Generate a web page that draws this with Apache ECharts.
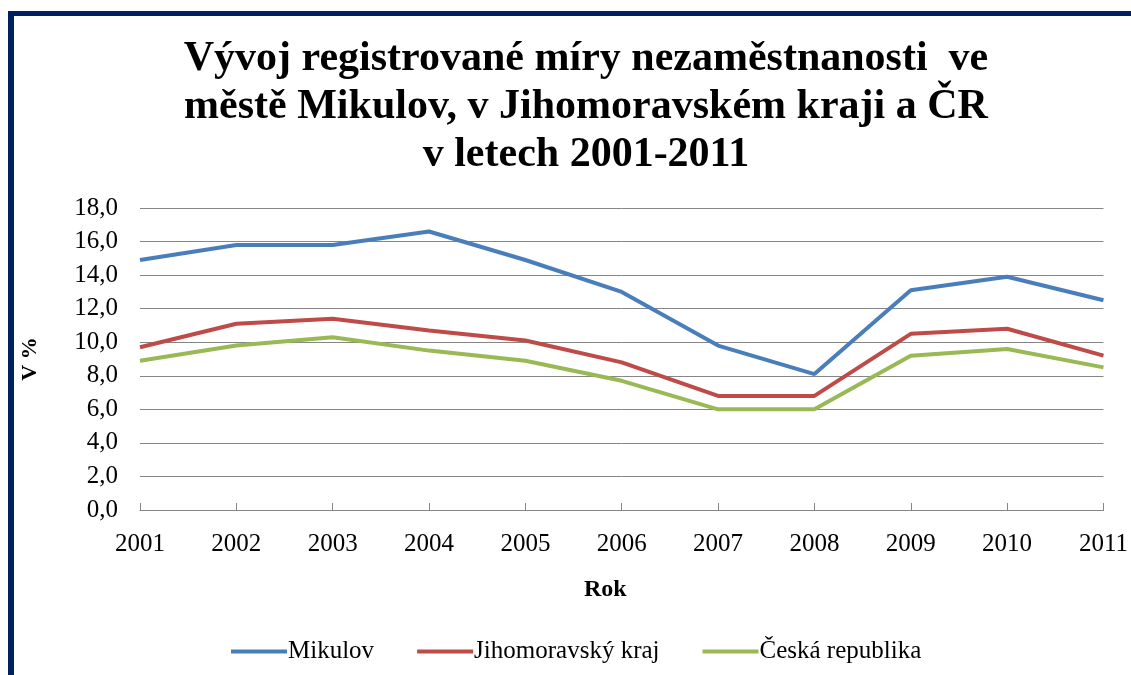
<!DOCTYPE html>
<html><head><meta charset="utf-8">
<script src="https://cdn.jsdelivr.net/npm/echarts@6/dist/echarts.min.js"></script>
<style>
html,body{margin:0;padding:0;background:#fff;}
#frame{position:absolute;left:8px;top:11px;width:1200px;height:700px;border-left:6px solid #002060;border-top:5px solid #002060;box-sizing:border-box;}
#c{position:absolute;left:0;top:0;width:1131px;height:675px;}
</style></head>
<body>
<div id="frame"></div>
<div id="c"></div>
<script>
const years = ['2001','2002','2003','2004','2005','2006','2007','2008','2009','2010','2011'];
const mikulov = [14.9, 15.8, 15.8, 16.6, 14.9, 13.0, 9.8, 8.1, 13.1, 13.9, 12.5];
const jmk = [9.7, 11.1, 11.4, 10.7, 10.1, 8.8, 6.8, 6.8, 10.5, 10.8, 9.2];
const cr = [8.9, 9.8, 10.3, 9.5, 8.9, 7.7, 6.0, 6.0, 9.2, 9.6, 8.5];
const seriesNames = ['Mikulov', 'Jihomoravský kraj', 'Česká republika'];
const colors = ['#4A7EBB', '#BE4B48', '#98B954'];

const chart = echarts.init(document.getElementById('c'));
const serif = '"Liberation Serif", "Times New Roman", serif';
chart.setOption({
  animation: false,
  backgroundColor: 'transparent',
  title: {
    text: 'Vývoj registrované míry nezaměstnanosti  ve\nměstě Mikulov, v Jihomoravském kraji a ČR\nv letech 2001-2011',
    left: 581, top: 30, textAlign: 'center',
    textStyle: {fontFamily: serif, fontWeight: 'bold', fontSize: 42, lineHeight: 48, color: '#000'}
  },
  graphic: [{
    type: 'text', left: 584, top: 578,
    style: {text: 'Rok', font: 'bold 24px "Liberation Serif", serif', fill: '#000'}
  }],
  grid: {left: 140, right: 26, top: 208, bottom: 165},
  legend: {
    bottom: 6, left: 226,
    data: seriesNames,
    icon: 'rect', itemWidth: 56, itemHeight: 4, itemGap: 43,
    textStyle: {fontFamily: serif, fontSize: 25, color: '#000', padding: [0,0,0,-4]}
  },
  xAxis: {
    type: 'category', data: years, boundaryGap: false,
    axisLine: {lineStyle: {color: '#868686', width: 1}},
    axisTick: {inside: true, length: 7, lineStyle: {color: '#868686'}},
    axisLabel: {fontFamily: serif, fontSize: 25, color: '#000', margin: 22}
  },
  yAxis: {
    type: 'value', min: 0, max: 18, interval: 2,
    name: 'V %', nameLocation: 'middle', nameGap: 99, nameRotate: 90,
    nameTextStyle: {fontFamily: serif, fontWeight: 'bold', fontSize: 22, color: '#000'},
    axisLine: {show: false},
    axisTick: {show: false},
    axisLabel: {fontFamily: serif, fontSize: 25, color: '#000', margin: 22,
      formatter: v => v.toFixed(1).replace('.', ',')},
    splitLine: {lineStyle: {color: '#868686', width: 1}}
  },
  series: [mikulov, jmk, cr].map((d, i) => ({
    name: seriesNames[i], type: 'line', data: d,
    symbol: 'none', lineStyle: {width: 4, color: colors[i]}, itemStyle: {color: colors[i]}
  }))
});
</script>
</body></html>
